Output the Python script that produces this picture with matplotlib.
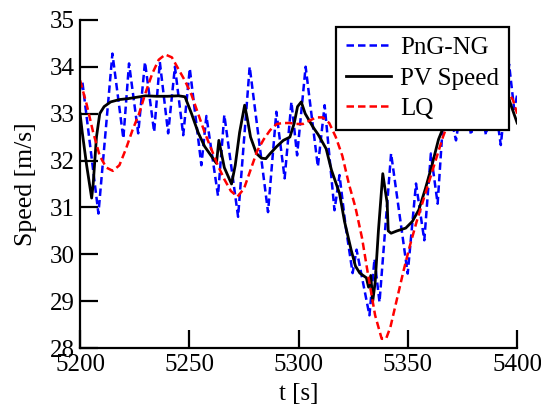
import matplotlib
matplotlib.use("Agg")
import matplotlib.pyplot as plt

# LQ controller (red dashed)
t_lq = [5200, 5203, 5206, 5209, 5212, 5215, 5218, 5221, 5224, 5227, 5230, 5233,
        5236, 5239, 5242, 5245, 5248, 5251, 5254, 5257, 5260, 5263, 5266, 5269,
        5272, 5275, 5278, 5281, 5284, 5287, 5290, 5293, 5296, 5299, 5302, 5305,
        5308, 5311, 5314, 5317, 5320, 5323, 5326, 5329, 5332, 5335, 5338, 5340,
        5342, 5345, 5348, 5351, 5354, 5357, 5360, 5363, 5366, 5370, 5375, 5380,
        5385, 5390, 5395, 5398, 5400]
v_lq = [33.71, 33.2, 32.6, 32.1, 31.85, 31.78, 31.9, 32.25, 32.65, 33.0, 33.45, 33.85,
        34.15, 34.26, 34.2, 33.95, 33.7, 33.4, 33.0, 32.6, 32.25, 31.9, 31.6, 31.35,
        31.23, 31.4, 31.8, 32.2, 32.45, 32.65, 32.78, 32.8, 32.8, 32.78, 32.78, 32.85,
        32.92, 32.92, 32.8, 32.5, 32.1, 31.5, 31.0, 30.35, 29.5, 28.7, 28.2, 28.2,
        28.45, 29.05, 29.65, 30.2, 30.7, 31.15, 31.6, 32.05, 32.5, 33.0, 33.4, 33.55,
        33.6, 33.6, 33.5, 33.3, 33.0]

# PV speed (black)
t_pv = [5200, 5201, 5203, 5205.3, 5206, 5207.5, 5209, 5211, 5214, 5218, 5222, 5226,
        5230, 5235, 5240, 5245, 5248, 5251, 5254, 5257, 5260, 5262.4, 5263.5, 5264.5,
        5266, 5269.3, 5271, 5273, 5275.3, 5276.5, 5278, 5280.7, 5283, 5285, 5287, 5290,
        5293, 5296, 5298, 5299.5, 5301.2, 5303, 5306.5, 5309, 5312.6, 5315, 5318.7, 5321,
        5324, 5326, 5328, 5331, 5332, 5333, 5333.9, 5335, 5336.5, 5338.5, 5339.5, 5340.5,
        5341, 5342.3, 5345, 5349, 5352, 5355, 5358, 5361, 5364, 5367, 5370, 5375,
        5380, 5385, 5390, 5395, 5397, 5400]
v_pv = [33.0, 32.6, 31.9, 31.2, 31.5, 32.5, 33.0, 33.15, 33.25, 33.3, 33.32, 33.35,
        33.38, 33.37, 33.37, 33.38, 33.36, 33.0, 32.6, 32.3, 32.1, 31.94, 32.43, 32.2,
        31.85, 31.5, 31.9, 32.6, 33.18, 32.9, 32.5, 32.15, 32.05, 32.04, 32.15, 32.3,
        32.43, 32.5, 32.8, 33.15, 33.25, 33.0, 32.72, 32.55, 32.25, 31.8, 31.3, 30.7,
        30.1, 29.75, 29.6, 29.5, 29.3, 29.55, 29.0, 29.4, 30.5, 31.72, 31.4, 31.1,
        30.5, 30.45, 30.5, 30.56, 30.7, 30.95, 31.4, 31.9, 32.45, 32.8, 33.0, 33.2,
        33.3, 33.4, 33.5, 33.5, 33.2, 32.8]

# PnG-NG (blue dashed)
t_png = [5200, 5201, 5208.4, 5214.8, 5219.8, 5222.4, 5226.6, 5229.7, 5233.9, 5236.5,
         5240.3, 5243.4, 5247.2, 5250.2, 5255.5, 5257.8, 5263.1, 5266, 5272.3, 5277.6,
         5286, 5289.8, 5293.6, 5296.7, 5299.3, 5303.2, 5308.8, 5311.9, 5316.4, 5318.7,
         5321.5, 5324.7, 5326.5, 5332.4, 5334.7, 5337, 5342.3, 5349.9, 5353.7, 5357.5,
         5360.5, 5363.6, 5367, 5372, 5375.5, 5378.9, 5382.3, 5385.7, 5389, 5392.5,
         5396.3, 5398.6, 5400]
v_png = [33.5, 33.7, 30.87, 34.28, 32.47, 34.07, 32.58, 34.1, 32.61, 34.1,
         32.58, 34.0, 32.54, 33.96, 31.9, 32.95, 31.25, 32.97, 30.8, 34.0,
         30.9, 33.04, 31.62, 33.25, 32.11, 34.0, 31.87, 33.18, 30.94, 31.69,
         30.6, 29.6, 30.1, 28.7, 29.9, 28.98, 32.15, 29.59, 31.51, 30.3,
         32.15, 31.08, 33.5, 32.43, 33.5, 32.54, 33.5, 32.54, 33.5, 32.33,
         34.05, 33.1, 33.4]

plt.rcParams['font.family'] = ['Liberation Serif', 'DejaVu Serif']

fig = plt.figure(figsize=(5.41, 4.13), dpi=100)
ax = fig.add_axes([0.148, 0.157, 0.808, 0.795])

ax.plot(t_png, v_png, color='#0000ff', lw=1.8, dashes=(3, 1.6), label='PnG-NG')
ax.plot(t_pv, v_pv, color='black', lw=2.0, label='PV Speed')
ax.plot(t_lq, v_lq, color='#ff0000', lw=1.8, dashes=(3, 1.6), label='LQ')

ax.set_xlim(5200, 5400)
ax.set_ylim(28, 35)
ax.set_xticks([5200, 5250, 5300, 5350, 5400])
ax.set_yticks([28, 29, 30, 31, 32, 33, 34, 35])
ax.spines['top'].set_visible(False)
ax.spines['right'].set_visible(False)
for s in ['left', 'bottom']:
    ax.spines[s].set_linewidth(1.6)
ax.tick_params(direction='in', length=13, width=1.6, labelsize=18, pad=4)

ax.set_xlabel('t [s]', fontsize=18, labelpad=5)
ax.set_ylabel('Speed [m/s]', fontsize=18.5, labelpad=9)

leg = ax.legend(loc='upper right', bbox_to_anchor=(0.982, 0.979), borderaxespad=0,
                fontsize=18, fancybox=False, edgecolor='black', framealpha=1,
                handlelength=1.8, handletextpad=0.36, borderpad=0.4, labelspacing=0.32)
leg.get_frame().set_linewidth(1.6)

fig.savefig('out.png', dpi=100)
